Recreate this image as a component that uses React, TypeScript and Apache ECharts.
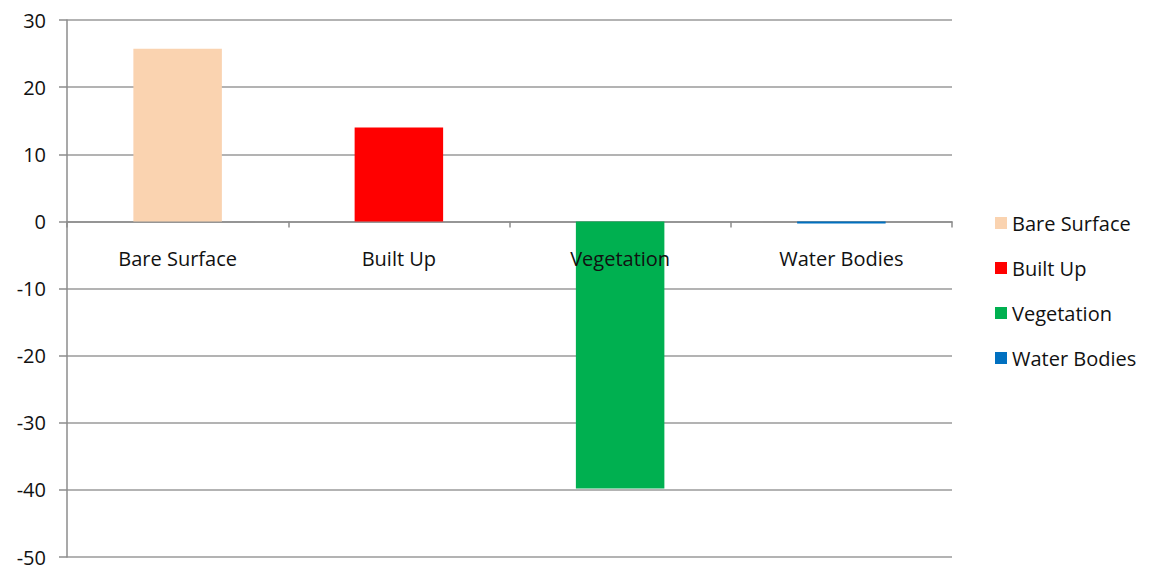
import React, { useEffect, useRef } from "react";
import * as echarts from "echarts";

const categories = ["Bare Surface", "Built Up", "Vegetation", "Water Bodies"];
const seriesNames = ["Bare Surface", "Built Up", "Vegetation", "Water Bodies"];
const values = [25.7, 14.0, -39.8, -0.3];
const colors = ["#FAD3B0", "#FF0000", "#00B050", "#0070C0"];
const yTicks = { min: -50, max: 30, interval: 10 };

const FONT = "'Open Sans', sans-serif";

export default function App() {
  const ref = useRef<HTMLDivElement>(null);
  useEffect(() => {
    if (!ref.current) return;
    const chart = echarts.init(ref.current, undefined, { renderer: "svg" });
    const series: any[] = seriesNames.map((name, i) => ({
      name,
      type: "bar",
      stack: "all",
      barWidth: "40%",
      itemStyle: { color: colors[i] },
      data: categories.map((_, j) => (j === i ? values[i] : "-")),
    }));
    series.push({
      name: "labels",
      type: "scatter",
      symbolSize: 0,
      silent: true,
      z: 10,
      itemStyle: { opacity: 1 },
      data: categories.map((c, i) => ({ name: c, value: [i, 0] })),
      label: {
        show: true,
        position: "bottom",
        distance: 27,
        formatter: "{b}",
        fontSize: 20,
        color: "#111111",
        opacity: 1,
        fontFamily: FONT,
      },
    });
    chart.setOption({
      animation: false,
      backgroundColor: "#ffffff",
      textStyle: { fontFamily: FONT },
      grid: { left: 67, right: 203, top: 20, bottom: 11, containLabel: false, outerBoundsMode: "none" },
      legend: {
        orient: "vertical",
        left: 990,
        top: 208,
        icon: "rect",
        itemWidth: 12,
        itemHeight: 12,
        itemGap: 25,
        textStyle: { fontSize: 20, color: "#111111", fontFamily: FONT, lineHeight: 19 },
        data: seriesNames,
      },
      xAxis: {
        type: "category",
        data: categories,
        axisLine: { onZero: true, lineStyle: { color: "#8c8c8c", width: 1.5 } },
        axisTick: { show: true, length: 6, lineStyle: { color: "#8c8c8c", width: 1.5 } },
        axisLabel: { show: false },
        splitLine: { show: false },
      },
      yAxis: {
        type: "value",
        min: yTicks.min,
        max: yTicks.max,
        interval: yTicks.interval,
        axisLine: { show: true, lineStyle: { color: "#8c8c8c", width: 1.5 } },
        axisTick: { show: true, length: 8, lineStyle: { color: "#8c8c8c", width: 1.5 } },
        axisLabel: { margin: 21, fontSize: 20, color: "#111111", fontFamily: FONT },
        splitLine: { show: true, lineStyle: { color: "#9a9a9a", width: 1.5 } },
      },
      series,
    });
    return () => chart.dispose();
  }, []);
  return <div ref={ref} style={{ width: 1155, height: 568, position: "absolute", left: 0, top: 0 }} />;
}
